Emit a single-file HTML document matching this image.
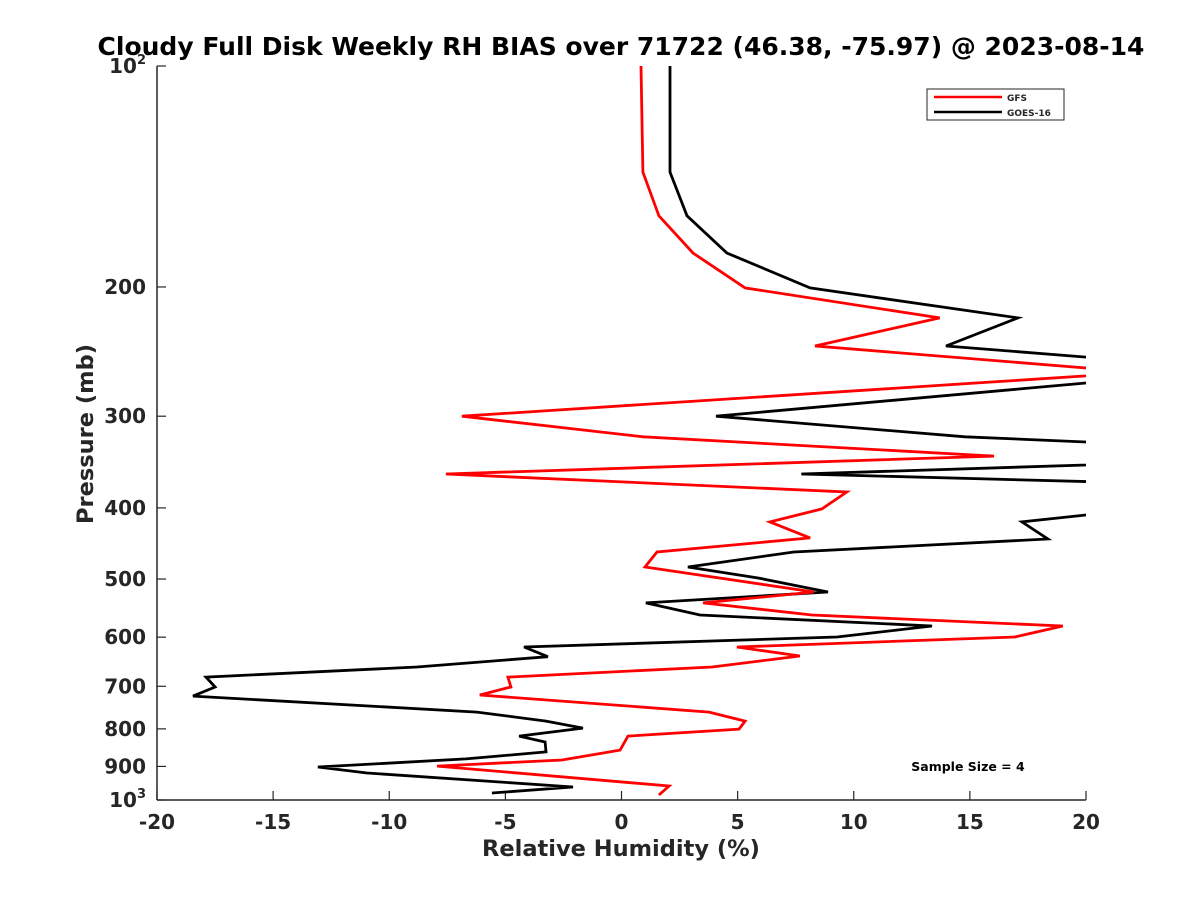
<!DOCTYPE html>
<html><head><meta charset="utf-8"><style>
body{margin:0;background:#fff;}
svg text{font-family:"DejaVu Sans","Liberation Sans",sans-serif;font-weight:bold;fill:#262626;}
</style></head><body>
<svg width="1200" height="900" viewBox="0 0 1200 900">
<defs><clipPath id="clip"><rect x="157" y="66" width="929" height="734"/></clipPath></defs>
<text x="621" y="55" text-anchor="middle" font-size="25" style="fill:#000">Cloudy Full Disk Weekly RH BIAS over 71722 (46.38, -75.97) @ 2023-08-14</text>
<g id="axes"></g>
<g id="series" clip-path="url(#clip)"></g>
<text x="621" y="856" text-anchor="middle" font-size="22.5">Relative Humidity (%)</text>
<text transform="translate(93,434) rotate(-90)" text-anchor="middle" font-size="22.5">Pressure (mb)</text>
<g>
<rect x="927" y="89" width="137" height="31" fill="#fff" stroke="#262626" stroke-width="1"/>
<line x1="934" y1="97" x2="1002" y2="97" stroke="#f00" stroke-width="2.5"/>
<text x="1007" y="101" font-size="9">GFS</text>
<line x1="934" y1="112" x2="1002" y2="112" stroke="#000" stroke-width="2.5"/>
<text x="1007" y="116" font-size="9">GOES-16</text>
</g>
<text x="968" y="771" text-anchor="middle" font-size="12.5" style="fill:#000">Sample Size = 4</text>
</svg>
<script>
const xTicks=[-20,-15,-10,-5,0,5,10,15,20];
const yTicks=[100,200,300,400,500,600,700,800,900,1000];
const gfsP=[100,139.5,160,179.8,200.6,220.4,240.7,257.9,262,264.4,300,320,340,359.6,380.5,401.3,418,439.5,459.4,481.5,520.7,538.9,559.7,579.4,599.7,618.8,636.5,658.8,680,701.6,719.4,759,780.8,800.6,818.3,855,882,899,957,984.5];
const gfsV=[0.84,0.92,1.61,3.08,5.32,13.7,8.33,20,20.4,20,-6.87,0.93,16.04,-7.56,9.7,8.63,6.39,8.12,1.53,1.01,8.28,3.51,8.2,19.0,16.94,4.97,7.68,3.9,-4.89,-4.76,-6.1,3.77,5.32,5.06,0.28,-0.06,-2.56,-7.94,2.05,1.61];
const goesP=[100,139.5,160,179.8,200.6,220.4,240.7,249.2,262,270.3,300,320,325.3,338,349.6,359.6,369,382,394,409,418,441,459.4,481.5,498.4,520.7,538.9,559.7,579.4,599.7,618.8,638,658.8,680,701.6,721.8,759,780.8,798,818.3,833.7,860,879,901.6,918.8,960,978.3];
const goesV=[2.09,2.09,2.82,4.54,8.12,17.07,13.97,20,23,20,4.07,14.79,20,23,20,7.74,21,23,23,20,17.24,18.36,7.42,2.86,5.88,8.89,1.05,3.38,13.37,9.28,-4.2,-3.17,-8.81,-17.89,-17.5,-18.45,-6.22,-3.25,-1.66,-4.41,-3.29,-3.25,-6.7,-13.07,-10.96,-2.09,-5.58];
const X0=157,X1=1086,Y0=66,Y1=800;
const xs=v=>X0+(v+20)/40*(X1-X0);
const ys=p=>Y0+(Math.log10(p)-2)*(Y1-Y0);
const NS="http://www.w3.org/2000/svg";
function mk(t,a,parent){const e=document.createElementNS(NS,t);for(const k in a)e.setAttribute(k,a[k]);parent.appendChild(e);return e;}
const ax=document.getElementById('axes');
const xl=mk('line',{x1:X0,y1:Y1,x2:X1,y2:Y1,stroke:'#262626','stroke-width':1.5},ax);


const yl=mk('line',{x1:X0,y1:Y0,x2:X0,y2:Y1,stroke:'#262626','stroke-width':1.5},ax);


xTicks.forEach(v=>{const x=xs(v);
mk('line',{x1:x,y1:Y1,x2:x,y2:Y1-9,stroke:'#262626','stroke-width':1.2},ax);
const t=mk('text',{x:x,y:829,'text-anchor':'middle','font-size':20},ax);t.textContent=v;

});
yTicks.forEach(p=>{const y=ys(p);
mk('line',{x1:X0,y1:y,x2:X0+9,y2:y,stroke:'#262626','stroke-width':1.2},ax);
const t=mk('text',{x:146,y:y+7,'text-anchor':'end','font-size':20},ax);
if(p===100||p===1000){t.textContent='10';const s=mk('tspan',{dy:-9,'font-size':13},t);s.textContent=p===100?'2':'3';}
else t.textContent=p;

});
const sg=document.getElementById('series');
function line(P,V,c,name){const pts=P.map((p,i)=>xs(V[i]).toFixed(1)+','+ys(p).toFixed(1)).join(' ');
const e=mk('polyline',{points:pts,fill:'none',stroke:c,'stroke-width':2.8,'stroke-linejoin':'miter'},sg);

}
line(goesP,goesV,'#000','goes16-line');
line(gfsP,gfsV,'#f00','gfs-line');
</script>
</body></html>
